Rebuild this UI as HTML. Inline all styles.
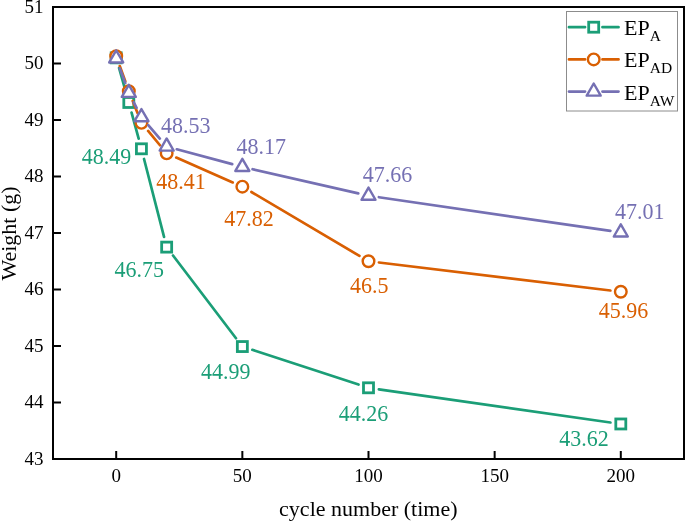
<!DOCTYPE html><html><head><meta charset="utf-8"><style>html,body{margin:0;padding:0;background:#fff;}svg{display:block;will-change:transform;opacity:0.999}text{font-family:"Liberation Serif",serif;}</style></head><body>
<svg width="685" height="522" viewBox="0 0 685 522">
<path d="M119.06,67.95L125.96,92.38M131.57,112.62L138.67,138.68M144.04,158.99L164.05,236.95M173.02,255.48L235.99,338.21M252.33,349.83L358.52,384.55M378.89,389.30L610.41,422.48" fill="none" stroke="#1b9e77" stroke-width="2.7" stroke-linecap="round"/>
<rect x="111.20" y="52.85" width="10.0" height="10.0" fill="#fff" stroke="#1b9e77" stroke-width="2.8"/>
<rect x="123.81" y="97.48" width="10.0" height="10.0" fill="#fff" stroke="#1b9e77" stroke-width="2.8"/>
<rect x="136.43" y="143.81" width="10.0" height="10.0" fill="#fff" stroke="#1b9e77" stroke-width="2.8"/>
<rect x="161.66" y="242.12" width="10.0" height="10.0" fill="#fff" stroke="#1b9e77" stroke-width="2.8"/>
<rect x="237.35" y="341.56" width="10.0" height="10.0" fill="#fff" stroke="#1b9e77" stroke-width="2.8"/>
<rect x="363.50" y="382.81" width="10.0" height="10.0" fill="#fff" stroke="#1b9e77" stroke-width="2.8"/>
<rect x="615.80" y="418.97" width="10.0" height="10.0" fill="#fff" stroke="#1b9e77" stroke-width="2.8"/>
<path d="M119.76,66.03L125.26,81.31M132.70,100.94L137.54,113.07M148.12,130.92L159.97,145.24M176.27,157.57L232.74,182.44M251.39,192.01L359.46,255.91M378.92,262.51L610.38,290.50" fill="none" stroke="#d95f02" stroke-width="2.7" stroke-linecap="round"/>
<circle cx="116.20" cy="56.15" r="5.8" fill="#fff" stroke="#d95f02" stroke-width="2.4"/>
<circle cx="128.81" cy="91.19" r="5.8" fill="#fff" stroke="#d95f02" stroke-width="2.4"/>
<circle cx="141.43" cy="122.82" r="5.8" fill="#fff" stroke="#d95f02" stroke-width="2.4"/>
<circle cx="166.66" cy="153.34" r="5.8" fill="#fff" stroke="#d95f02" stroke-width="2.4"/>
<circle cx="242.35" cy="186.67" r="5.8" fill="#fff" stroke="#d95f02" stroke-width="2.4"/>
<circle cx="368.50" cy="261.25" r="5.8" fill="#fff" stroke="#d95f02" stroke-width="2.4"/>
<circle cx="620.80" cy="291.76" r="5.8" fill="#fff" stroke="#d95f02" stroke-width="2.4"/>
<path d="M119.81,68.28L125.21,83.02M133.65,102.20L136.59,107.86M148.27,125.14L159.82,138.59M176.80,149.28L232.21,164.17M252.59,169.23L358.26,193.37M378.89,197.22L610.41,230.92" fill="none" stroke="#7570b3" stroke-width="2.7" stroke-linecap="round"/>
<path d="M116.20,50.33L123.20,62.46L109.20,62.46Z" fill="#fff" stroke="#7570b3" stroke-width="2.4" stroke-linejoin="round"/>
<path d="M128.81,84.80L135.81,96.92L121.81,96.92Z" fill="#fff" stroke="#7570b3" stroke-width="2.4" stroke-linejoin="round"/>
<path d="M141.43,109.09L148.43,121.22L134.43,121.22Z" fill="#fff" stroke="#7570b3" stroke-width="2.4" stroke-linejoin="round"/>
<path d="M166.66,138.47L173.66,150.60L159.66,150.60Z" fill="#fff" stroke="#7570b3" stroke-width="2.4" stroke-linejoin="round"/>
<path d="M242.35,158.81L249.35,170.94L235.35,170.94Z" fill="#fff" stroke="#7570b3" stroke-width="2.4" stroke-linejoin="round"/>
<path d="M368.50,187.63L375.50,199.75L361.50,199.75Z" fill="#fff" stroke="#7570b3" stroke-width="2.4" stroke-linejoin="round"/>
<path d="M620.80,224.35L627.80,236.48L613.80,236.48Z" fill="#fff" stroke="#7570b3" stroke-width="2.4" stroke-linejoin="round"/>
<rect x="53" y="7" width="631" height="452" fill="none" stroke="#000" stroke-width="2"/>
<path d="M53,459.00h8M53,402.50h8M53,346.00h8M53,289.50h8M53,233.00h8M53,176.50h8M53,120.00h8M53,63.50h8M53,7.00h8M116.20,459v-8M242.35,459v-8M368.50,459v-8M494.65,459v-8M620.80,459v-8" stroke="#000" stroke-width="2" fill="none"/>
<text x="43.6" y="464.60" font-size="19" text-anchor="end">43</text>
<text x="43.6" y="408.10" font-size="19" text-anchor="end">44</text>
<text x="43.6" y="351.60" font-size="19" text-anchor="end">45</text>
<text x="43.6" y="295.10" font-size="19" text-anchor="end">46</text>
<text x="43.6" y="238.60" font-size="19" text-anchor="end">47</text>
<text x="43.6" y="182.10" font-size="19" text-anchor="end">48</text>
<text x="43.6" y="125.60" font-size="19" text-anchor="end">49</text>
<text x="43.6" y="69.10" font-size="19" text-anchor="end">50</text>
<text x="43.6" y="12.60" font-size="19" text-anchor="end">51</text>
<text x="116.20" y="482" font-size="19" text-anchor="middle">0</text>
<text x="242.35" y="482" font-size="19" text-anchor="middle">50</text>
<text x="368.50" y="482" font-size="19" text-anchor="middle">100</text>
<text x="494.65" y="482" font-size="19" text-anchor="middle">150</text>
<text x="620.80" y="482" font-size="19" text-anchor="middle">200</text>
<text x="368.3" y="515.5" font-size="22" text-anchor="middle">cycle number (time)</text>
<text transform="translate(16.1,233.5) rotate(-90)" x="0" y="0" font-size="22" text-anchor="middle">Weight (g)</text>
<text transform="translate(81.70,163.90) scale(1,1.05)" font-size="22" fill="#1b9e77">48.49</text>
<text transform="translate(114.50,277.20) scale(1,1.05)" font-size="22" fill="#1b9e77">46.75</text>
<text transform="translate(201.00,379.20) scale(1,1.05)" font-size="22" fill="#1b9e77">44.99</text>
<text transform="translate(338.80,420.70) scale(1,1.05)" font-size="22" fill="#1b9e77">44.26</text>
<text transform="translate(559.30,445.80) scale(1,1.05)" font-size="22" fill="#1b9e77">43.62</text>
<text transform="translate(156.20,188.70) scale(1,1.05)" font-size="22" fill="#d95f02">48.41</text>
<text transform="translate(224.30,225.50) scale(1,1.05)" font-size="22" fill="#d95f02">47.82</text>
<text transform="translate(349.90,293.40) scale(1,1.05)" font-size="22" fill="#d95f02">46.5</text>
<text transform="translate(598.80,317.90) scale(1,1.05)" font-size="22" fill="#d95f02">45.96</text>
<text transform="translate(160.90,132.90) scale(1,1.05)" font-size="22" fill="#7570b3">48.53</text>
<text transform="translate(236.50,153.50) scale(1,1.05)" font-size="22" fill="#7570b3">48.17</text>
<text transform="translate(362.70,182.30) scale(1,1.05)" font-size="22" fill="#7570b3">47.66</text>
<text transform="translate(615.00,219.10) scale(1,1.05)" font-size="22" fill="#7570b3">47.01</text>
<rect x="566.5" y="11.5" width="111" height="99.5" fill="#fff" stroke="#8c8c8c" stroke-width="1"/>
<path d="M569,27.2H585M602.5,27.2H618.5" stroke="#1b9e77" stroke-width="2.8" stroke-linecap="round"/>
<rect x="588.70" y="22.20" width="10.0" height="10.0" fill="#fff" stroke="#1b9e77" stroke-width="2.8"/>
<text x="624" y="34.7" font-size="22">EP<tspan font-size="15.5" dy="5.9">A</tspan></text>
<path d="M569,59.4H585M602.5,59.4H618.5" stroke="#d95f02" stroke-width="2.8" stroke-linecap="round"/>
<circle cx="593.70" cy="59.40" r="5.8" fill="#fff" stroke="#d95f02" stroke-width="2.4"/>
<text x="624" y="66.8" font-size="22">EP<tspan font-size="15.5" dy="5.9">AD</tspan></text>
<path d="M569,91.6H585M602.5,91.6H618.5" stroke="#7570b3" stroke-width="2.8" stroke-linecap="round"/>
<path d="M593.70,83.52L600.70,95.64L586.70,95.64Z" fill="#fff" stroke="#7570b3" stroke-width="2.4" stroke-linejoin="round"/>
<text x="624" y="99.7" font-size="22">EP<tspan font-size="15.5" dy="5.9">AW</tspan></text>
</svg></body></html>
